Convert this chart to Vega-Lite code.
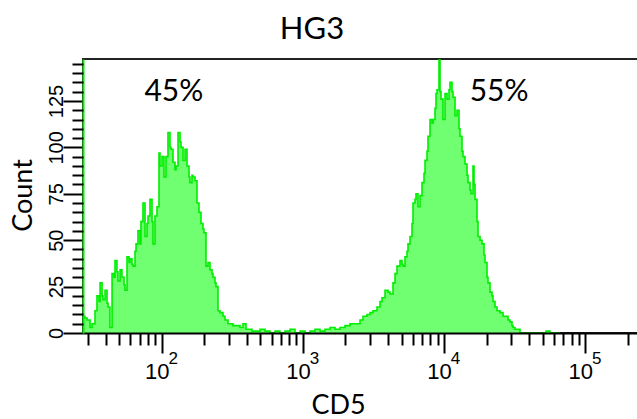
{
  "$schema": "https://vega.github.io/schema/vega-lite/v6.json",
  "width": 560,
  "height": 274,
  "autosize": {"type": "none"},
  "padding": {"left": 83, "top": 59, "right": 0, "bottom": 86},
  "background": "white",
  "config": {
    "view": {"stroke": "#222222", "strokeWidth": 2},
    "axis": {"grid": false, "domainColor": "#000000", "tickColor": "#000000", "labelColor": "#000000", "titleColor": "#000000"}
  },
  "title": {"text": "HG3", "font": "Lato", "fontSize": 31, "fontWeight": "normal", "anchor": "middle", "frame": "group", "dx": -51, "dy": 32, "offset": 21, "baseline": "alphabetic", "color": "#000000"},
  "datasets": {
    "hist": [
      {"cd5": 27.7, "count": 9}, {"cd5": 28.6, "count": 8}, {"cd5": 29.6, "count": 7}, {"cd5": 31.1, "count": 3}, {"cd5": 32.1, "count": 5},
      {"cd5": 33.7, "count": 12}, {"cd5": 34.8, "count": 20}, {"cd5": 36.0, "count": 17}, {"cd5": 36.6, "count": 27}, {"cd5": 37.8, "count": 20},
      {"cd5": 38.4, "count": 18}, {"cd5": 39.7, "count": 23}, {"cd5": 41.0, "count": 16}, {"cd5": 41.7, "count": 14}, {"cd5": 43.0, "count": 3},
      {"cd5": 44.5, "count": 32}, {"cd5": 45.9, "count": 30}, {"cd5": 46.7, "count": 39}, {"cd5": 48.2, "count": 33}, {"cd5": 49.0, "count": 28},
      {"cd5": 50.7, "count": 34}, {"cd5": 52.3, "count": 30}, {"cd5": 54.1, "count": 26}, {"cd5": 55.0, "count": 23}, {"cd5": 56.8, "count": 41},
      {"cd5": 58.7, "count": 38}, {"cd5": 59.6, "count": 40}, {"cd5": 61.6, "count": 37}, {"cd5": 62.6, "count": 36}, {"cd5": 64.7, "count": 44},
      {"cd5": 65.8, "count": 48}, {"cd5": 67.9, "count": 55}, {"cd5": 70.2, "count": 48}, {"cd5": 71.3, "count": 60}, {"cd5": 73.7, "count": 70},
      {"cd5": 76.2, "count": 52}, {"cd5": 78.7, "count": 59}, {"cd5": 80.0, "count": 63}, {"cd5": 82.6, "count": 72}, {"cd5": 85.4, "count": 60},
      {"cd5": 86.8, "count": 48}, {"cd5": 89.6, "count": 63}, {"cd5": 92.6, "count": 68}, {"cd5": 95.7, "count": 97}, {"cd5": 97.3, "count": 90},
      {"cd5": 100.5, "count": 95}, {"cd5": 103.8, "count": 84}, {"cd5": 107.2, "count": 95}, {"cd5": 110.8, "count": 108}, {"cd5": 114.5, "count": 100},
      {"cd5": 116.4, "count": 99}, {"cd5": 120.2, "count": 92}, {"cd5": 124.2, "count": 88}, {"cd5": 126.3, "count": 90}, {"cd5": 130.5, "count": 108},
      {"cd5": 134.8, "count": 103}, {"cd5": 137.0, "count": 100}, {"cd5": 141.6, "count": 93}, {"cd5": 146.3, "count": 99}, {"cd5": 151.1, "count": 90},
      {"cd5": 156.1, "count": 84}, {"cd5": 158.6, "count": 81}, {"cd5": 163.9, "count": 85}, {"cd5": 166.5, "count": 84}, {"cd5": 172.1, "count": 82},
      {"cd5": 177.8, "count": 70}, {"cd5": 183.7, "count": 65}, {"cd5": 189.8, "count": 59}, {"cd5": 196.1, "count": 56}, {"cd5": 199.3, "count": 54},
      {"cd5": 205.9, "count": 36}, {"cd5": 212.7, "count": 38}, {"cd5": 219.8, "count": 34}, {"cd5": 227.1, "count": 32}, {"cd5": 230.8, "count": 30},
      {"cd5": 238.5, "count": 27}, {"cd5": 242.4, "count": 25}, {"cd5": 250.4, "count": 12}, {"cd5": 258.7, "count": 11}, {"cd5": 271.7, "count": 9},
      {"cd5": 280.7, "count": 7}, {"cd5": 294.8, "count": 5}, {"cd5": 304.5, "count": 5}, {"cd5": 319.8, "count": 4}, {"cd5": 335.8, "count": 4},
      {"cd5": 358.5, "count": 3}, {"cd5": 376.5, "count": 5}, {"cd5": 395.4, "count": 2}, {"cd5": 408.5, "count": 2}, {"cd5": 436, "count": 1},
      {"cd5": 465, "count": 1}, {"cd5": 497, "count": 2}, {"cd5": 539, "count": 1}, {"cd5": 585, "count": 0}, {"cd5": 635, "count": 1},
      {"cd5": 688, "count": 0}, {"cd5": 747, "count": 1}, {"cd5": 810, "count": 2}, {"cd5": 879, "count": 0}, {"cd5": 954, "count": 1},
      {"cd5": 1035, "count": 0}, {"cd5": 1123, "count": 1}, {"cd5": 1218, "count": 2}, {"cd5": 1322, "count": 1}, {"cd5": 1434, "count": 2},
      {"cd5": 1556, "count": 3}, {"cd5": 1688, "count": 2}, {"cd5": 1831, "count": 3}, {"cd5": 1987, "count": 4}, {"cd5": 2156, "count": 5},
      {"cd5": 2339, "count": 5}, {"cd5": 2538, "count": 7}, {"cd5": 2665, "count": 9}, {"cd5": 2845, "count": 10}, {"cd5": 2987, "count": 11},
      {"cd5": 3137, "count": 12}, {"cd5": 3348, "count": 14}, {"cd5": 3516, "count": 17}, {"cd5": 3633, "count": 19}, {"cd5": 3815, "count": 23},
      {"cd5": 4006, "count": 22}, {"cd5": 4139, "count": 21}, {"cd5": 4346, "count": 27}, {"cd5": 4491, "count": 32}, {"cd5": 4639, "count": 36},
      {"cd5": 4872, "count": 39}, {"cd5": 5034, "count": 37}, {"cd5": 5116, "count": 36}, {"cd5": 5286, "count": 41}, {"cd5": 5461, "count": 44},
      {"cd5": 5551, "count": 48}, {"cd5": 5735, "count": 52}, {"cd5": 5925, "count": 59}, {"cd5": 6022, "count": 70}, {"cd5": 6222, "count": 72},
      {"cd5": 6325, "count": 75}, {"cd5": 6534, "count": 68}, {"cd5": 6751, "count": 74}, {"cd5": 6975, "count": 81}, {"cd5": 7206, "count": 86},
      {"cd5": 7325, "count": 93}, {"cd5": 7567, "count": 98}, {"cd5": 7692, "count": 106}, {"cd5": 7947, "count": 115}, {"cd5": 8211, "count": 113},
      {"cd5": 8345, "count": 115}, {"cd5": 8622, "count": 121}, {"cd5": 8764, "count": 129}, {"cd5": 8908, "count": 131}, {"cd5": 9203, "count": 147},
      {"cd5": 9355, "count": 130}, {"cd5": 9508, "count": 126}, {"cd5": 9824, "count": 115}, {"cd5": 10150, "count": 129}, {"cd5": 10490, "count": 126},
      {"cd5": 10830, "count": 131}, {"cd5": 11010, "count": 135}, {"cd5": 11380, "count": 130}, {"cd5": 11560, "count": 127}, {"cd5": 11950, "count": 117},
      {"cd5": 12340, "count": 120}, {"cd5": 12750, "count": 110}, {"cd5": 12960, "count": 106}, {"cd5": 13390, "count": 98}, {"cd5": 13610, "count": 95},
      {"cd5": 14060, "count": 91}, {"cd5": 14530, "count": 85}, {"cd5": 14770, "count": 81}, {"cd5": 15260, "count": 77}, {"cd5": 15510, "count": 75},
      {"cd5": 16020, "count": 90}, {"cd5": 16290, "count": 80}, {"cd5": 16560, "count": 72}, {"cd5": 17100, "count": 60}, {"cd5": 17390, "count": 52},
      {"cd5": 17960, "count": 50}, {"cd5": 18560, "count": 48}, {"cd5": 19170, "count": 42}, {"cd5": 19490, "count": 38}, {"cd5": 20130, "count": 30},
      {"cd5": 20460, "count": 27}, {"cd5": 21140, "count": 22}, {"cd5": 21840, "count": 20}, {"cd5": 22200, "count": 17}, {"cd5": 22940, "count": 14},
      {"cd5": 23700, "count": 12}, {"cd5": 24890, "count": 11}, {"cd5": 26140, "count": 9}, {"cd5": 27010, "count": 9}, {"cd5": 28360, "count": 7},
      {"cd5": 29290, "count": 6}, {"cd5": 30260, "count": 4}, {"cd5": 30760, "count": 3}, {"cd5": 31780, "count": 2}, {"cd5": 32830, "count": 2},
      {"cd5": 34480, "count": 0}, {"cd5": 37410, "count": 0}, {"cd5": 40590, "count": 0}, {"cd5": 47780, "count": 0}, {"cd5": 52690, "count": 1},
      {"cd5": 56240, "count": 0}, {"cd5": 66210, "count": 0}
    ],
    "labels": [
      {"label": "45%", "cd5": 122, "count": 130},
      {"label": "55%", "cd5": 24500, "count": 130}
    ]
  },
  "layer": [
    {
      "data": {"name": "hist"},
      "mark": {"type": "area", "interpolate": "step-after", "color": "#70ff70", "clip": true},
      "encoding": {
        "x": {
          "field": "cd5", "type": "quantitative",
          "scale": {"type": "log", "domain": [27.71, 256200], "nice": false},
          "axis": {
            "orient": "bottom", "values": [100, 1000, 10000, 100000], "labelExpr": "'10'",
            "tickSize": 20, "tickWidth": 2, "domainWidth": 2,
            "labelFont": "Liberation Sans Narrow, Liberation Sans", "labelFontSize": 22,
            "labelBaseline": "alphabetic", "labelPadding": 25, "labelOffset": -5,
            "labelFlush": false, "labelOverlap": false,
            "title": "CD5", "titleFont": "Lato", "titleFontSize": 27, "titleFontWeight": "normal",
            "titleX": 255, "titleY": 80, "titleBaseline": "alphabetic", "titleAnchor": "middle", "titleAlign": "center",
            "zindex": 1
          }
        },
        "y": {
          "field": "count", "type": "quantitative",
          "scale": {"domain": [0, 147.6], "nice": false, "zero": true},
          "axis": {
            "orient": "left", "values": [0, 25, 50, 75, 100, 125],
            "tickSize": 20, "tickWidth": 2, "domainColor": "#00ee00", "domainWidth": 2,
            "labelAngle": -90, "labelAlign": "center", "labelBaseline": "alphabetic", "labelPadding": 1,
            "labelFont": "Liberation Sans Narrow, Liberation Sans", "labelFontSize": 20,
            "title": "Count", "titleFont": "Lato", "titleFontSize": 27, "titleFontWeight": "normal",
            "titleX": -60, "titleY": 136, "titleAngle": -90, "titleBaseline": "middle", "titleAlign": "center",
            "zindex": 1
          }
        }
      }
    },
    {
      "data": {"name": "hist"},
      "mark": {"type": "line", "interpolate": "step-after", "color": "#00ee00", "strokeWidth": 1.6, "clip": true},
      "encoding": {
        "x": {
          "field": "cd5", "type": "quantitative",
          "axis": {
            "orient": "bottom",
            "values": [30, 40, 50, 60, 70, 80, 90, 200, 300, 400, 500, 600, 700, 800, 900, 2000, 3000, 4000, 5000, 6000, 7000, 8000, 9000, 20000, 30000, 40000, 50000, 60000, 70000, 80000, 90000, 200000],
            "labels": false, "domain": false, "tickSize": 12, "tickWidth": 2, "title": null, "zindex": 1
          }
        },
        "y": {
          "field": "count", "type": "quantitative",
          "axis": {
            "orient": "left",
            "values": [5, 10, 15, 20, 30, 35, 40, 45, 55, 60, 65, 70, 80, 85, 90, 95, 105, 110, 115, 120, 130, 135, 140, 145],
            "labels": false, "domain": false, "tickSize": 11, "tickWidth": 2, "title": null, "zindex": 1
          }
        }
      }
    },
    {
      "data": {"name": "labels"},
      "mark": {"type": "text", "font": "Lato", "fontSize": 30, "color": "#000000", "align": "center", "baseline": "middle"},
      "encoding": {
        "x": {
          "field": "cd5", "type": "quantitative",
          "axis": {
            "orient": "bottom", "values": [100, 1000, 10000, 100000],
            "labelExpr": "format(round(log(datum.value)/LN10), 'd')",
            "ticks": true, "tickSize": 0, "domain": false,
            "labelFont": "Liberation Sans Narrow, Liberation Sans", "labelFontSize": 17,
            "labelBaseline": "alphabetic", "labelPadding": 30, "labelOffset": 11,
            "labelFlush": false, "labelOverlap": false, "title": null, "zindex": 1
          }
        },
        "y": {"field": "count", "type": "quantitative", "axis": null},
        "text": {"field": "label"}
      }
    }
  ],
  "resolve": {"axis": {"x": "independent", "y": "independent"}}
}
